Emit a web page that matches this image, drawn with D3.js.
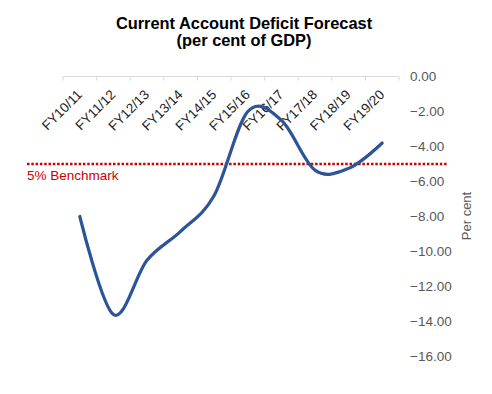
<!DOCTYPE html>
<html>
<head>
<meta charset="utf-8">
<script src="https://cdn.jsdelivr.net/npm/d3@7"></script>
<style>
  html, body { margin: 0; padding: 0; background: #fff; }
  svg { display: block; font-family: "Liberation Sans", Arial, sans-serif; }
</style>
</head>
<body>
<svg id="chart" width="492" height="394"></svg>
<script>
const categories = ["FY10/11","FY11/12","FY12/13","FY13/14","FY14/15","FY15/16","FY16/17","FY17/18","FY18/19","FY19/20"];
const deficit = [-8.0, -13.6, -10.5, -8.85, -6.8, -2.0, -2.5, -5.35, -5.25, -3.8];
const benchmark = -5;
const benchmarkLabel = "5% Benchmark";
const yTicks = [0, -2, -4, -6, -8, -10, -12, -14, -16];
const titleLines = ["Current Account Deficit Forecast", "(per cent of GDP)"];
const yTitle = "Per cent";

const svg = d3.select("#chart");

const x = d3.scaleBand().domain(categories).range([63, 399]).padding(0);
const y = d3.scaleLinear().domain([-16, 0]).range([356.5, 76.5]);

// Title
svg.append("g").selectAll("text").data(titleLines).join("text")
  .attr("x", 244).attr("y", (d, i) => 28.5 + i * 17)
  .attr("text-anchor", "middle")
  .attr("font-size", 16.4).attr("font-weight", "bold").attr("fill", "#000")
  .text(d => d);

// X axis (at top, value 0)
const xAxis = svg.append("g").attr("transform", `translate(0,${y(0)})`);
xAxis.append("line").attr("x1", 63).attr("x2", 399).attr("y1", 0).attr("y2", 0)
  .attr("stroke", "#d9d9d9").attr("stroke-width", 1);
const bounds = categories.map(c => x(c)).concat([x(categories[categories.length - 1]) + x.bandwidth()]);
xAxis.selectAll("line.tick").data(bounds).join("line").attr("class", "tick")
  .attr("x1", d => d).attr("x2", d => d).attr("y1", 0).attr("y2", 4)
  .attr("stroke", "#d9d9d9").attr("stroke-width", 1);
xAxis.selectAll("text").data(categories).join("text")
  .attr("transform", d => `translate(${x(d) + x.bandwidth() / 2 + 3},${19}) rotate(-45)`)
  .attr("text-anchor", "end")
  .attr("font-size", 13.5).attr("fill", "#222")
  .text(d => d);

// Y axis labels on right
const fmt = d3.format(".2f");
svg.append("g").selectAll("text").data(yTicks).join("text")
  .attr("x", 410).attr("y", d => y(d)).attr("dy", "0.35em")
  .attr("font-size", 13.5).attr("fill", "#595959")
  .text(d => fmt(d));

svg.append("text")
  .attr("transform", `translate(471,216) rotate(-90)`)
  .attr("text-anchor", "middle")
  .attr("font-size", 13).attr("fill", "#595959")
  .text(yTitle);

// Benchmark
svg.append("line")
  .attr("x1", 27).attr("x2", 447).attr("y1", y(benchmark)).attr("y2", y(benchmark))
  .attr("stroke", "#cc0000").attr("stroke-width", 2.5).attr("stroke-dasharray", "2.5,1.8");
svg.append("text")
  .attr("x", 27).attr("y", y(benchmark) + 16)
  .attr("font-size", 13.5).attr("fill", "#cc0000")
  .text(benchmarkLabel);

// Line
const line = d3.line()
  .x((d, i) => x(categories[i]) + x.bandwidth() / 2)
  .y(d => y(d))
  .curve(d3.curveCardinal.tension(0));
svg.append("path").datum(deficit)
  .attr("d", line)
  .attr("fill", "none").attr("stroke", "#2c5597").attr("stroke-width", 3.2)
  .attr("stroke-linecap", "round").attr("stroke-linejoin", "round");
</script>
</body>
</html>
